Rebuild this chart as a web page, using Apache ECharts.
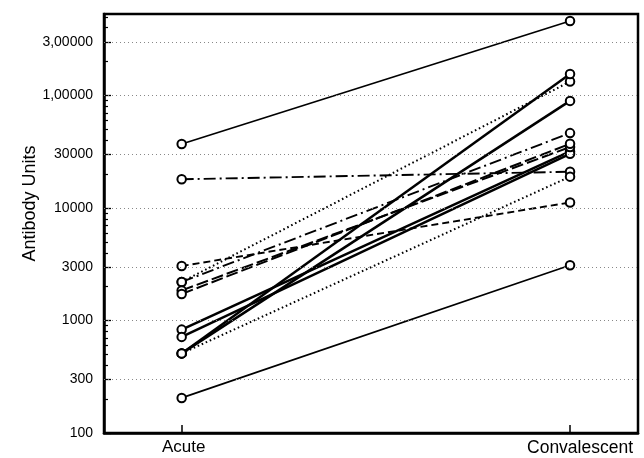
<!DOCTYPE html>
<html>
<head>
<meta charset="utf-8">
<script src="https://cdn.jsdelivr.net/npm/echarts@6/dist/echarts.min.js"></script>
<style>
  html, body { margin: 0; padding: 0; background: #fff; }
  #chart { width: 644px; height: 458px; }
</style>
</head>
<body>
<div id="chart"></div>
<script>
// ---- data ----
const categories = ['Acute', 'Convalescent'];
const acuteValues =        [37000, 18000, 205, 3050, 510,  2200,   510,    510,   830,   715,   2200,  1850,  1720];
const convalescentValues = [459000, 21000, 3100, 11200, 19000, 133000, 155000, 89500, 31800, 30300, 46300, 34800, 37200];
const lineKinds = ['thin', 'dashdot', 'thin', 'dash', 'dot', 'dot', 'thick', 'thick', 'thick', 'thick', 'dashdot', 'longdash', 'longdash'];
const yTickValues = [100, 300, 1000, 3000, 10000, 30000, 100000, 300000];
const yTickLabels = ['100', '300', '1000', '3000', '10000', '30000', '1,00000', '3,00000'];
const yMinorTicks = [200, 400, 500, 600, 700, 800, 900,
                     2000, 4000, 5000, 6000, 7000, 8000, 9000,
                     20000, 40000, 50000, 60000, 70000, 80000, 90000,
                     200000, 400000, 500000];

// ---- styles ----
const kindStyles = {
  thin:     { type: 'solid', width: 1.7 },
  thick:    { type: 'solid', width: 2.5 },
  dash:     { type: [7, 4], width: 1.9 },
  longdash: { type: [12, 4], width: 2 },
  dashdot:  { type: [12, 4, 2, 4], width: 1.9 },
  dot:      { type: [1.6, 2.8], width: 2 }
};
const FONT = 'Liberation Sans, Arial, Helvetica, sans-serif';

const series = acuteValues.map((a, i) => ({
  type: 'line',
  data: [[1, a], [2, convalescentValues[i]]],
  symbol: 'emptyCircle',
  symbolSize: 8.5,
  showSymbol: true,
  itemStyle: { color: '#000', borderColor: '#000', borderWidth: 1.4 },
  lineStyle: Object.assign({ color: '#000' }, kindStyles[lineKinds[i]]),
  emphasis: { disabled: true },
  silent: true,
  z: 3
}));
series.push({
  type: 'line',
  data: [],
  silent: true,
  z: 1,
  markLine: {
    silent: true,
    symbol: ['none', 'none'],
    label: { show: false },
    lineStyle: { type: [1, 3], color: '#888', width: 1 },
    data: yTickValues.filter(v => v > 100).map(v => ({ yAxis: v }))
  }
});

const chart = echarts.init(document.getElementById('chart'), null, { renderer: 'canvas' });
chart.setOption({
  animation: false,
  backgroundColor: '#fff',
  grid: {
    left: 104, right: 6, top: 14, bottom: 25,
    show: true, borderColor: '#000', borderWidth: 2.5, backgroundColor: 'transparent'
  },
  xAxis: {
    type: 'value',
    min: 0.8, max: 2.175,
    axisLine: { show: true, lineStyle: { color: '#000', width: 2.5 } },
    axisTick: { show: true, inside: true, length: 8, customValues: [1, 2], lineStyle: { color: '#000', width: 1.5 } },
    axisLabel: {
      customValues: [1, 2],
      formatter: v => (Math.round(v) === 1 ? '{a|' : '{b|') + categories[Math.round(v) - 1] + '}',
      color: '#000', fontSize: 17, fontFamily: FONT, margin: 6,
      rich: {
        a: { fontSize: 17, fontFamily: FONT, color: '#000', padding: [0, 0, 0, 4] },
        b: { fontSize: 17.5, fontFamily: FONT, color: '#000', padding: [0, 0, 0, 20] }
      }
    },
    splitLine: { show: false }
  },
  yAxis: [
    {
      type: 'log',
      logBase: 10,
      min: 100, max: 530000,
      position: 'left',
      name: 'Antibody Units',
      nameLocation: 'middle',
      nameRotate: 90,
      nameGap: 65,
      nameMoveOverlap: false,
      nameTextStyle: { color: '#000', fontSize: 18, fontFamily: FONT, padding: [0, 0, 0, 40] },
      axisLine: { show: true, lineStyle: { color: '#000', width: 2.5 } },
      axisTick: { show: true, inside: true, length: 7, customValues: yTickValues, lineStyle: { color: '#000', width: 1.3 } },
      axisLabel: {
        customValues: yTickValues,
        formatter: v => { const k = yTickValues.findIndex(t => Math.abs(t - v) / t < 1e-6); return k >= 0 ? yTickLabels[k] : ''; },
        color: '#000', fontSize: 14, fontFamily: FONT, margin: 11
      },
      splitLine: { show: false }
    },
    {
      type: 'log',
      logBase: 10,
      min: 100, max: 530000,
      position: 'left',
      offset: 0,
      axisLine: { show: false },
      axisTick: { show: true, inside: true, length: 4, customValues: yMinorTicks, lineStyle: { color: '#000', width: 1.2 } },
      axisLabel: { show: false },
      splitLine: { show: false }
    }
  ],
  series: series
});
</script>
</body>
</html>
